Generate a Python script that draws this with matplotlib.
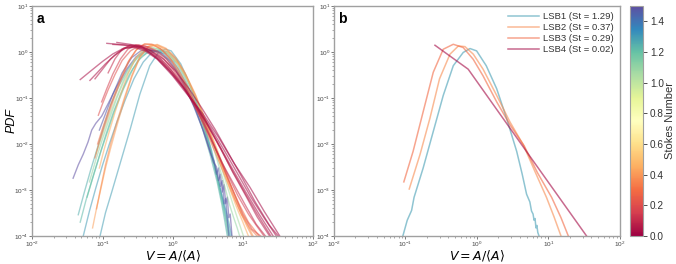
import numpy as np
import matplotlib
matplotlib.use("Agg")
import matplotlib.pyplot as plt
from matplotlib.colors import Normalize
from matplotlib.cm import ScalarMappable

plt.rcParams["font.family"] = ["Liberation Sans", "DejaVu Sans"]

# ---------------- Panel b data ----------------
b_labels = ["LSB1 (St = 1.29)", "LSB2 (St = 0.37)", "LSB3 (St = 0.29)", "LSB4 (St = 0.02)"]
b_stokes = [1.29, 0.37, 0.29, 0.02]

lsb1_x = [0.092, 0.106, 0.122, 0.132, 0.177, 0.245, 0.338, 0.467, 0.643, 0.80, 0.99, 1.35, 1.89, 2.6, 3.6, 4.3, 4.95, 5.5, 5.8, 6.1, 6.3, 6.5, 6.7, 6.9, 7.1, 7.4]
lsb1_y = [1e-4, 2.2e-4, 3.6e-4, 6.9e-4, 3.0e-3, 0.0186, 0.113, 0.50, 0.97, 1.18, 1.05, 0.50, 0.158, 0.036, 6.9e-3, 2.2e-3, 8.1e-4, 5.5e-4, 3.5e-4, 3.0e-4, 2.2e-4, 2.4e-4, 1.5e-4, 1.7e-4, 1.2e-4, 1e-4]

lsb2_x = [0.113, 0.16, 0.22, 0.30, 0.42, 0.55, 0.68, 0.89, 1.22, 1.89, 2.9, 4.45, 6.5, 9.4, 12.0, 15.0]
lsb2_y = [1.05e-3, 5.9e-3, 0.036, 0.26, 0.89, 1.34, 1.30, 0.89, 0.42, 0.113, 0.030, 9.6e-3, 2.5e-3, 6.9e-4, 2.6e-4, 1e-4]

lsb3_x = [0.095, 0.128, 0.177, 0.245, 0.338, 0.467, 0.643, 0.887, 1.22, 1.89, 2.9, 4.6, 7.0, 11.1, 15.0, 19.0]
lsb3_y = [1.5e-3, 6.9e-3, 0.05, 0.36, 1.14, 1.46, 1.24, 0.69, 0.30, 0.082, 0.026, 9.0e-3, 2.4e-3, 6.9e-4, 2.5e-4, 1e-4]

lsb4_x = [0.259, 0.755, 4.45, 34.2]
lsb4_y = [1.39, 0.42, 8.6e-3, 1e-4]

# ---------------- Panel a data ----------------
a_stokes = [1.29, 1.25, 1.22, 1.30, 1.20, 1.50, 1.47, 1.10, 1.05,
            0.42, 0.38, 0.33, 0.30, 0.45, 0.20, 0.15, 0.10,
            0.02, 0.03, 0.04, 0.05, 0.06, 0.025]

a01_x = [0.092, 0.11, 0.135, 0.18, 0.25, 0.34, 0.47, 0.62, 0.78, 0.95, 1.3, 1.8, 2.5, 3.4, 4.4, 5.3, 6.0, 6.5, 6.9]
a01_y = [1e-4, 3.2e-4, 9e-4, 4e-3, 0.022, 0.12, 0.5, 0.95, 1.15, 1.05, 0.55, 0.18, 0.042, 8.5e-3, 1.7e-3, 5.5e-4, 2.8e-4, 1.6e-4, 1e-4]
a02_x = [0.045, 0.055, 0.068, 0.085, 0.105, 0.13, 0.17, 0.23, 0.31, 0.42, 0.56, 0.75, 1.0, 1.4, 1.9, 2.6, 3.4, 4.3, 5.0, 5.5, 6.0]
a02_y = [2.9e-4, 9e-4, 2.8e-3, 8.5e-3, 0.025, 0.07, 0.18, 0.42, 0.75, 1.02, 1.08, 0.9, 0.58, 0.25, 0.085, 0.024, 6e-3, 1.5e-3, 5e-4, 2.2e-4, 1e-4]
a03_x = [0.048, 0.058, 0.072, 0.09, 0.11, 0.14, 0.18, 0.24, 0.32, 0.43, 0.58, 0.78, 1.05, 1.45, 2.0, 2.7, 3.5, 4.4, 5.2, 5.8, 6.4]
a03_y = [2e-4, 6e-4, 1.8e-3, 5.5e-3, 0.015, 0.045, 0.12, 0.32, 0.65, 0.95, 1.05, 0.92, 0.6, 0.26, 0.088, 0.025, 6.5e-3, 1.6e-3, 5e-4, 2.2e-4, 1e-4]
a04_x = [0.053, 0.065, 0.08, 0.1, 0.125, 0.16, 0.21, 0.28, 0.38, 0.5, 0.66, 0.88, 1.15, 1.55, 2.1, 2.8, 3.6, 4.5, 5.3, 6.0, 6.6]
a04_y = [1e-4, 3.5e-4, 1.1e-3, 3.5e-3, 0.01, 0.03, 0.09, 0.26, 0.6, 0.95, 1.1, 0.98, 0.65, 0.3, 0.1, 0.028, 7e-3, 1.6e-3, 5e-4, 2.2e-4, 1e-4]
a05_x = [0.06, 0.075, 0.095, 0.12, 0.15, 0.2, 0.27, 0.36, 0.48, 0.64, 0.85, 1.12, 1.5, 2.0, 2.7, 3.5, 4.3, 5.0, 5.6, 6.2]
a05_y = [7e-4, 2.2e-3, 7e-3, 0.02, 0.055, 0.16, 0.42, 0.8, 1.05, 1.1, 0.92, 0.58, 0.27, 0.095, 0.027, 7e-3, 1.8e-3, 6e-4, 2.5e-4, 1e-4]
a06_x = [0.038, 0.045, 0.053, 0.062, 0.07, 0.08, 0.097, 0.12, 0.16, 0.22, 0.3, 0.4, 0.52, 0.68, 0.9, 1.2, 1.6, 2.2, 3.0, 3.8, 4.2, 4.5, 4.8, 5.1, 5.4, 5.7, 6.0, 6.3, 6.6, 7.0]
a06_y = [1.8e-3, 3.5e-3, 6e-3, 0.011, 0.02, 0.028, 0.04, 0.075, 0.18, 0.42, 0.78, 1.05, 1.1, 0.95, 0.65, 0.35, 0.15, 0.05, 0.013, 4e-3, 3.2e-3, 1.6e-3, 2.2e-3, 9e-4, 1.3e-3, 5e-4, 7e-4, 2.5e-4, 3e-4, 1e-4]
a07_x = [0.09, 0.11, 0.14, 0.19, 0.26, 0.35, 0.47, 0.62, 0.82, 1.1, 1.5, 2.0, 2.7, 3.5, 3.9, 4.2, 4.5, 4.8, 5.1, 5.4, 5.7, 6.0, 6.3]
a07_y = [0.02, 0.045, 0.12, 0.35, 0.75, 1.05, 1.12, 0.98, 0.7, 0.4, 0.17, 0.065, 0.02, 6e-3, 4.2e-3, 2.2e-3, 3e-3, 1.2e-3, 1.6e-3, 5e-4, 6.5e-4, 2.2e-4, 1e-4]
a08_x = [0.065, 0.08, 0.1, 0.125, 0.16, 0.21, 0.28, 0.37, 0.5, 0.66, 0.88, 1.2, 1.6, 2.2, 3.0, 4.0, 5.2, 6.4, 7.4, 8.3, 9.0]
a08_y = [1.5e-3, 4.5e-3, 0.013, 0.035, 0.1, 0.27, 0.6, 0.95, 1.2, 1.15, 0.9, 0.55, 0.25, 0.085, 0.025, 6.5e-3, 1.7e-3, 5e-4, 2.5e-4, 1.5e-4, 1e-4]
a09_x = [0.08, 0.1, 0.125, 0.16, 0.21, 0.28, 0.38, 0.5, 0.66, 0.88, 1.2, 1.6, 2.2, 3.0, 4.0, 5.3, 6.7, 8.0, 9.2, 10.2]
a09_y = [6e-3, 0.016, 0.042, 0.11, 0.3, 0.65, 1.05, 1.25, 1.15, 0.88, 0.55, 0.26, 0.09, 0.028, 8e-3, 2.2e-3, 7e-4, 3e-4, 1.6e-4, 1e-4]
a10_x = [0.072, 0.082, 0.095, 0.11, 0.13, 0.16, 0.2, 0.26, 0.34, 0.45, 0.6, 0.8, 1.1, 1.5, 2.1, 2.9, 4.0, 5.5, 7.5, 10, 12, 14]
a10_y = [1.5e-4, 4e-4, 1.1e-3, 3e-3, 8e-3, 0.025, 0.08, 0.28, 0.75, 1.3, 1.45, 1.2, 0.75, 0.35, 0.12, 0.035, 0.01, 2.8e-3, 8e-4, 2.8e-4, 1.6e-4, 1e-4]
a11_x = [0.082, 0.095, 0.11, 0.13, 0.16, 0.2, 0.26, 0.34, 0.45, 0.6, 0.8, 1.1, 1.5, 2.1, 2.9, 4.0, 5.5, 7.5, 9.5, 11.5, 13.5]
a11_y = [3.9e-4, 1.2e-3, 3.5e-3, 0.01, 0.03, 0.09, 0.3, 0.8, 1.3, 1.4, 1.15, 0.72, 0.34, 0.115, 0.033, 9e-3, 2.5e-3, 7e-4, 3e-4, 1.6e-4, 1e-4]
a12_x = [0.078, 0.09, 0.105, 0.125, 0.15, 0.19, 0.24, 0.31, 0.4, 0.52, 0.7, 0.95, 1.3, 1.8, 2.5, 3.5, 5.0, 7.0, 9.5, 12.5, 16]
a12_y = [5e-3, 0.011, 0.023, 0.05, 0.11, 0.28, 0.65, 1.15, 1.5, 1.45, 1.1, 0.65, 0.3, 0.11, 0.036, 0.011, 3e-3, 8.5e-4, 3e-4, 1.5e-4, 1e-4]
a13_x = [0.085, 0.1, 0.12, 0.145, 0.18, 0.23, 0.3, 0.39, 0.5, 0.66, 0.88, 1.2, 1.65, 2.3, 3.2, 4.5, 6.3, 8.8, 12, 15, 17]
a13_y = [0.01, 0.022, 0.05, 0.11, 0.26, 0.6, 1.1, 1.45, 1.45, 1.2, 0.8, 0.42, 0.17, 0.058, 0.018, 5.5e-3, 1.6e-3, 5e-4, 2e-4, 1.3e-4, 1e-4]
a14_x = [0.09, 0.105, 0.125, 0.15, 0.185, 0.23, 0.3, 0.39, 0.5, 0.66, 0.88, 1.2, 1.65, 2.3, 3.2, 4.4, 6.0, 8.0, 10, 12]
a14_y = [3e-3, 7.5e-3, 0.019, 0.048, 0.13, 0.33, 0.75, 1.2, 1.4, 1.3, 0.95, 0.55, 0.24, 0.075, 0.021, 5.5e-3, 1.5e-3, 4.5e-4, 2e-4, 1e-4]
a15_x = [0.087, 0.1, 0.12, 0.15, 0.19, 0.25, 0.33, 0.44, 0.6, 0.8, 1.1, 1.5, 2.1, 2.9, 4.0, 5.5, 7.5, 10, 13.5, 18]
a15_y = [0.042, 0.075, 0.15, 0.32, 0.65, 1.05, 1.35, 1.3, 1.05, 0.72, 0.4, 0.19, 0.075, 0.027, 8.5e-3, 2.6e-3, 8.5e-4, 3e-4, 1.4e-4, 1e-4]
a16_x = [0.097, 0.115, 0.14, 0.18, 0.23, 0.3, 0.4, 0.55, 0.75, 1.0, 1.4, 2.0, 2.8, 4.0, 5.8, 8.5, 12, 16, 20]
a16_y = [0.082, 0.16, 0.33, 0.7, 1.15, 1.42, 1.35, 1.05, 0.7, 0.42, 0.2, 0.075, 0.028, 8.5e-3, 2.5e-3, 7.5e-4, 3e-4, 1.6e-4, 1e-4]
a17_x = [0.12, 0.15, 0.19, 0.25, 0.33, 0.45, 0.62, 0.85, 1.2, 1.7, 2.4, 3.4, 5.0, 7.5, 11, 15.5, 21]
a17_y = [0.35, 0.7, 1.15, 1.4, 1.4, 1.15, 0.8, 0.5, 0.26, 0.11, 0.042, 0.014, 4e-3, 1.3e-3, 4.5e-4, 1.8e-4, 1e-4]
a18_x = [0.115, 0.25, 0.38, 0.6, 1.0, 1.6, 2.7, 4.5, 7.5, 12.6, 20, 33.6]
a18_y = [1.53, 1.38, 1.24, 0.7, 0.3, 0.12, 0.045, 0.014, 3.8e-3, 1.15e-3, 3.5e-4, 1e-4]
a19_x = [0.048, 0.07, 0.1, 0.14, 0.2, 0.28, 0.4, 0.6, 0.9, 1.4, 2.2, 3.5, 5.5, 8.5, 13, 20, 30]
a19_y = [0.25, 0.4, 0.62, 0.9, 1.2, 1.25, 1.05, 0.7, 0.38, 0.17, 0.065, 0.022, 7e-3, 2.2e-3, 7e-4, 2.5e-4, 1e-4]
a20_x = [0.066, 0.085, 0.11, 0.15, 0.21, 0.3, 0.42, 0.6, 0.9, 1.35, 2.0, 3.0, 4.5, 7, 11, 17, 27]
a20_y = [0.24, 0.36, 0.55, 0.85, 1.2, 1.3, 1.1, 0.75, 0.4, 0.19, 0.08, 0.03, 0.01, 3e-3, 9e-4, 3e-4, 1e-4]
a21_x = [0.14, 0.2, 0.28, 0.38, 0.5, 0.7, 1.0, 1.5, 2.2, 3.2, 4.8, 7.2, 11, 16, 25]
a21_y = [1.45, 1.4, 1.3, 1.15, 0.9, 0.6, 0.33, 0.15, 0.06, 0.024, 8e-3, 2.5e-3, 8e-4, 3e-4, 1e-4]
a22_x = [0.078, 0.1, 0.13, 0.17, 0.23, 0.32, 0.45, 0.65, 0.95, 1.4, 2.1, 3.2, 4.8, 7.2, 11, 16, 24]
a22_y = [0.26, 0.42, 0.7, 1.0, 1.3, 1.35, 1.1, 0.72, 0.4, 0.18, 0.072, 0.025, 8e-3, 2.4e-3, 7.5e-4, 2.6e-4, 1e-4]
a23_x = [0.16, 0.25, 0.35, 0.5, 0.75, 1.1, 1.7, 2.6, 4, 6, 9.5, 15, 24, 32]
a23_y = [1.6, 1.45, 1.3, 1.05, 0.68, 0.38, 0.16, 0.06, 0.021, 7e-3, 2e-3, 5.5e-4, 1.7e-4, 1e-4]

a_curves = [(a01_x, a01_y), (a02_x, a02_y), (a03_x, a03_y), (a04_x, a04_y), (a05_x, a05_y),
            (a06_x, a06_y), (a07_x, a07_y), (a08_x, a08_y), (a09_x, a09_y), (a10_x, a10_y),
            (a11_x, a11_y), (a12_x, a12_y), (a13_x, a13_y), (a14_x, a14_y), (a15_x, a15_y),
            (a16_x, a16_y), (a17_x, a17_y), (a18_x, a18_y), (a19_x, a19_y), (a20_x, a20_y),
            (a21_x, a21_y), (a22_x, a22_y), (a23_x, a23_y)]
b_curves = [(lsb1_x, lsb1_y), (lsb2_x, lsb2_y), (lsb3_x, lsb3_y), (lsb4_x, lsb4_y)]

# ---------------- Figure ----------------
cmap = plt.get_cmap("Spectral")
norm = Normalize(vmin=0.0, vmax=1.5)
spine_col = "#a0a0a0"

fig = plt.figure(figsize=(6.76, 2.64), dpi=100)
ax_a = fig.add_axes([0.048, 0.106, 0.415, 0.872])
ax_b = fig.add_axes([0.494, 0.106, 0.423, 0.872])
cax = fig.add_axes([0.932, 0.106, 0.019, 0.872])

def style(ax):
    ax.set_xscale("log")
    ax.set_yscale("log")
    ax.set_xlim(1e-2, 1e2)
    ax.set_ylim(1e-4, 1e1)
    for s in ax.spines.values():
        s.set_color(spine_col)
        s.set_linewidth(1.0)
    ax.tick_params(which="major", labelsize=4.6, length=2.0, width=0.5, colors="#444444", pad=0.8)
    ax.tick_params(which="minor", length=1.2, width=0.4, colors="#666666")
    ax.set_xlabel(r"$V = A/\langle A\rangle$", fontsize=9)
    ax.xaxis.set_label_coords(0.5, -0.057)

style(ax_a)
style(ax_b)

for st, (xs, ys) in zip(a_stokes, a_curves):
    ax_a.plot(xs, ys, color=cmap(norm(st)), lw=1.0, alpha=0.55)

for st, lab, (xs, ys) in zip(b_stokes, b_labels, b_curves):
    ax_b.plot(xs, ys, color=cmap(norm(st)), lw=1.1, alpha=0.6, label=lab)

ax_a.set_ylabel("PDF", fontsize=9, style="italic")
ax_a.yaxis.set_label_coords(-0.052, 0.5)
ax_a.text(0.015, 0.975, "a", transform=ax_a.transAxes, fontsize=10, fontweight="bold", va="top", ha="left")
ax_b.text(0.015, 0.975, "b", transform=ax_b.transAxes, fontsize=10, fontweight="bold", va="top", ha="left")

leg = ax_b.legend(loc="upper right", fontsize=6.8, frameon=False, handlelength=3.3,
                  borderaxespad=0.25, labelspacing=0.22, handletextpad=0.4)
for t in leg.get_texts():
    t.set_color("#333333")

sm = ScalarMappable(norm=norm, cmap=cmap)
sm.set_array([])
cb = fig.colorbar(sm, cax=cax, ticks=[0.0, 0.2, 0.4, 0.6, 0.8, 1.0, 1.2, 1.4])
cb.ax.tick_params(labelsize=7.2, length=3, width=0.6, colors="#333333", pad=2)
cb.outline.set_edgecolor(spine_col)
cb.set_label("Stokes Number", fontsize=8, color="#333333")
cb.ax.yaxis.set_label_coords(2.72, 0.5)

fig.savefig("out.png", dpi=100)
